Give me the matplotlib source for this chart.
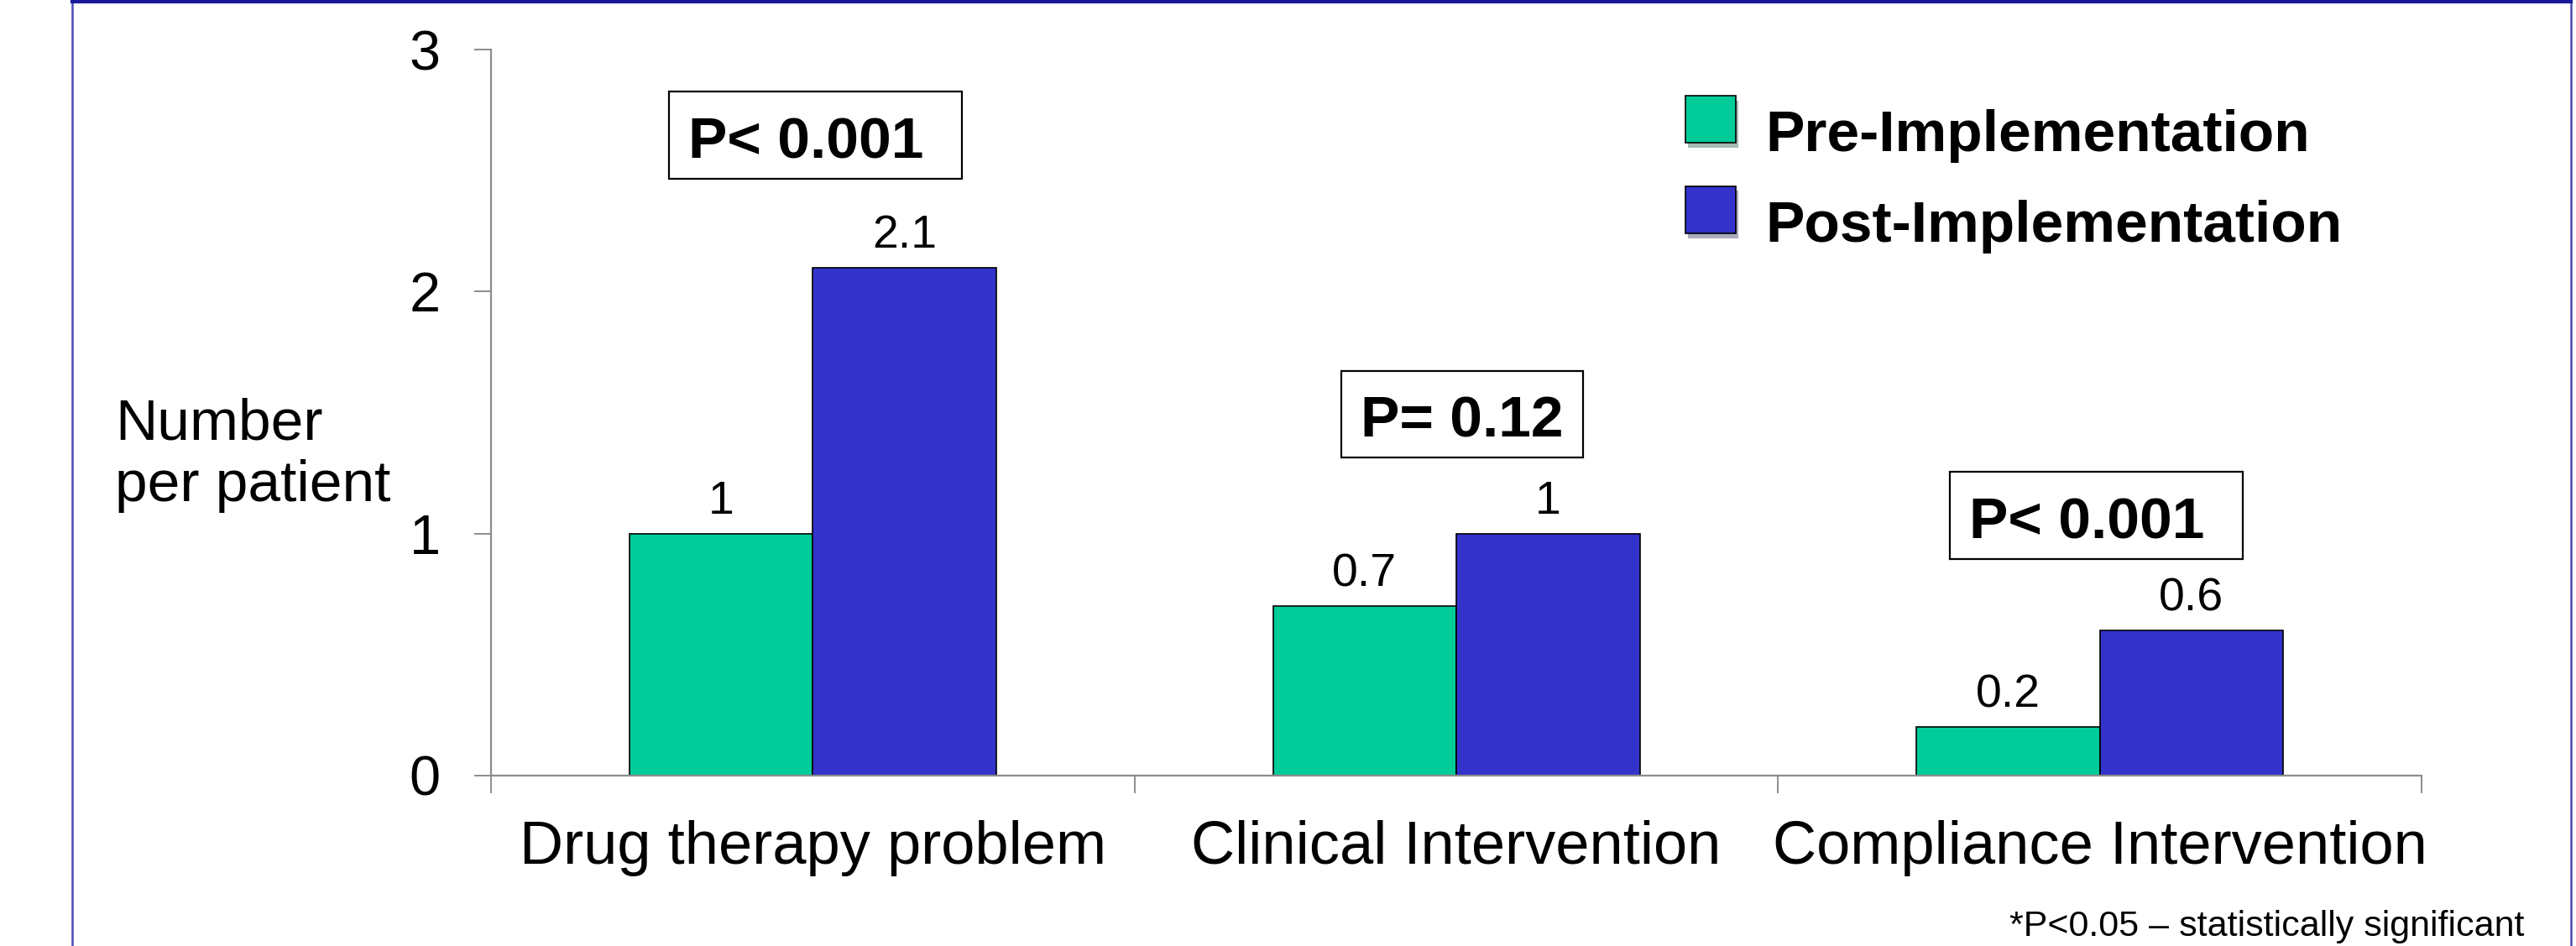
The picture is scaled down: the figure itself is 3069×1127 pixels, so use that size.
import matplotlib.pyplot as plt
import matplotlib.patheffects as pe
from matplotlib.patches import Rectangle
from matplotlib.lines import Line2D
from matplotlib.legend_handler import HandlerPatch
import numpy as np

plt.rcParams['font.family'] = ['Liberation Sans', 'DejaVu Sans']

categories = ['Drug therapy problem', 'Clinical Intervention', 'Compliance Intervention']
pre_values = [1, 0.7, 0.2]
post_values = [2.1, 1, 0.6]
series_names = ['Pre-Implementation', 'Post-Implementation']
p_labels = ['P< 0.001', 'P= 0.12', 'P< 0.001']
y_ticks = [0, 1, 2, 3]
footnote = '*P<0.05 \u2013 statistically significant'

# layout of the p-value boxes (data coords: x0, x1, y_bottom, y_top)
p_boxes = [(0.2765, 0.7317, 2.466, 2.826),
           (1.321, 1.697, 1.313, 1.670),
           (2.267, 2.722, 0.894, 1.254)]

W, H = 3069, 1127
fig = plt.figure(figsize=(W / 100, H / 100), dpi=100)
ax = fig.add_axes([585 / W, 1 - 924 / H, (2885 - 585) / W, (924 - 59) / H])

green = '#00CC99'
blue = '#3333CC'
gray = '#8c8c8c'

x = np.arange(len(categories)) + 0.5
w = 0.285
b1 = ax.bar(x - w / 2, pre_values, w, color=green, edgecolor='black', linewidth=1.2,
            label=series_names[0])
b2 = ax.bar(x + w / 2, post_values, w, color=blue, edgecolor='black', linewidth=1.2,
            label=series_names[1])

for bars, vals in ((b1, pre_values), (b2, post_values)):
    for rect, v in zip(bars, vals):
        ax.annotate('%g' % v, (rect.get_x() + rect.get_width() / 2, v),
                    xytext=(0, 17), textcoords='offset points',
                    ha='center', va='baseline', fontsize=40)

ax.set_xlim(0, 3)
ax.set_ylim(0, 3)
ax.set_yticks(y_ticks)
ax.set_yticklabels([str(t) for t in y_ticks], fontsize=48)
ax.tick_params(axis='y', direction='out', length=14.4, width=1.4, color=gray, pad=29)
ax.set_xticks(x)
ax.set_xticklabels(categories, fontsize=52)
ax.tick_params(axis='x', which='major', length=0, pad=38)
ax.set_xticks(np.arange(len(categories) + 1), minor=True)
ax.tick_params(axis='x', which='minor', direction='out', length=15, width=1.4, color=gray)

for s in ('top', 'right'):
    ax.spines[s].set_visible(False)
for s in ('left', 'bottom'):
    ax.spines[s].set_color(gray)
    ax.spines[s].set_linewidth(1.6)

# p-value boxes
px_x = 766.7  # pixels per x unit
px_y = 288.7  # pixels per y unit
for lab, (x0, x1, yb, yt) in zip(p_labels, p_boxes):
    ax.add_patch(Rectangle((x0, yb), x1 - x0, yt - yb, fill=False, edgecolor='black',
                           linewidth=1.6, clip_on=False))
    ax.text(x0 + 23 / px_x, yb + 25 / px_y, lab, fontsize=50, fontweight='bold',
            ha='left', va='baseline')


# legend keys sit a bit above the text baseline
def raised_square(legend, orig_handle, xdescent, ydescent, width, height, fontsize):
    return Rectangle((-xdescent, -ydescent + 10), width, height)


key_handles = [b1.patches[0], b2.patches[0]]
leg = fig.legend(key_handles, series_names, loc='upper left',
                 bbox_to_anchor=(2008 / W, 1 - 128 / H),
                 frameon=False, prop={'size': 50, 'weight': 'bold'},
                 handlelength=0.87, handleheight=0.87, handletextpad=0.5,
                 labelspacing=0.6, borderpad=0, borderaxespad=0,
                 handler_map={Rectangle: HandlerPatch(patch_func=raised_square)})
for h in leg.legend_handles:
    h.set_path_effects([pe.SimplePatchShadow(offset=(2, -4), alpha=0.35), pe.Normal()])

# y label
fig.text(137 / W, 1 - 597 / H, 'Number\nper patient', fontsize=50, ha='left',
         va='baseline', linespacing=1.2)

fig.text(3008 / W, 1 - 1115 / H, footnote, fontsize=31, ha='right', va='baseline')

# slide border
fig.add_artist(Line2D([86 / W, 86 / W], [0, 1], transform=fig.transFigure,
                      color='#4a4ab8', linewidth=1.8))
fig.add_artist(Line2D([3063 / W, 3063 / W], [0, 1], transform=fig.transFigure,
                      color='#4a4ab8', linewidth=1.8))
fig.add_artist(Line2D([86 / W, 3063 / W], [1 - 1.5 / H, 1 - 1.5 / H],
                      transform=fig.transFigure, color='#1a1a99', linewidth=3))

fig.savefig('out.png', dpi=100)
